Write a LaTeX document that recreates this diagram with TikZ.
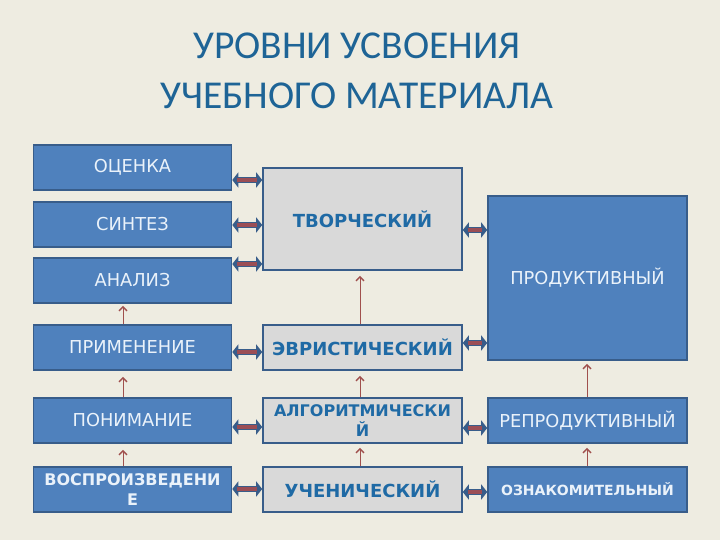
\documentclass[tikz,border=0pt]{standalone}
\usepackage{fontspec}
\setmainfont{DejaVu Sans}
\newfontfamily\titlefont{Carlito}
\usetikzlibrary{arrows.meta}
\definecolor{bg}{HTML}{EEECE1}
\definecolor{boxblue}{HTML}{4F81BD}
\definecolor{boxline}{HTML}{385D8A}
\definecolor{boxgray}{HTML}{D9D9D9}
\definecolor{midtext}{HTML}{1F6AA5}
\definecolor{lighttext}{HTML}{EAF2FA}
\definecolor{titleblue}{HTML}{1E6496}
\definecolor{arrred}{HTML}{9B4E55}
\definecolor{thinred}{HTML}{A0504D}
\tikzset{
  bluebox/.style={draw=boxline, line width=1.6pt, fill=boxblue, text=lighttext, inner sep=0pt, align=center, font=\fontsize{17.8}{20}\selectfont},
  graybox/.style={draw=boxline, line width=1.6pt, fill=boxgray, text=midtext, inner sep=0pt, align=center, font=\fontsize{18}{20}\selectfont\bfseries},
  twoline/.style={font=\fontsize{16}{20}\selectfont\bfseries},
  dblarr/.style={line width=6.4pt, draw=boxline, {Triangle[width=15pt,length=6pt]}-{Triangle[width=15pt,length=6pt]}},
  dblcore/.style={line width=3.8pt, draw=arrred, shorten <=5pt, shorten >=5pt},
  uparr/.style={draw=thinred, line width=1pt, -{Straight Barb[length=4pt,width=8pt,line width=1.4pt]}}
}
\begin{document}
\begin{tikzpicture}[x=1pt,y=-1pt]
\fill[bg] (0,0) rectangle (720,540);
\useasboundingbox (0,0) rectangle (720,540);

\node[text=titleblue, font=\titlefont\fontsize{39.5}{50}\selectfont, align=center] (title) at (357,71) {УРОВНИ УСВОЕНИЯ\\УЧЕБНОГО МАТЕРИАЛА};

% left column
\node[bluebox, minimum width=198pt, minimum height=45pt] (ocenka) at (132.5,167.5) {ОЦЕНКА};
\node[bluebox, minimum width=198pt, minimum height=45pt] (sintez) at (132.5,224.5) {СИНТЕЗ};
\node[bluebox, minimum width=198pt, minimum height=45pt] (analiz) at (132.5,280.5) {АНАЛИЗ};
\node[bluebox, minimum width=198pt, minimum height=45pt] (primen) at (132.5,347.5) {ПРИМЕНЕНИЕ};
\node[bluebox, minimum width=198pt, minimum height=45pt] (ponim) at (132.5,420.5) {ПОНИМАНИЕ};
\node[bluebox, twoline, minimum width=198pt, minimum height=45pt] (vospr) at (132.5,489.5) {ВОСПРОИЗВЕДЕНИ\\Е};

% middle column
\node[graybox, minimum width=199pt, minimum height=102pt] (tvor) at (362.5,219) {ТВОРЧЕСКИЙ};
\node[graybox, minimum width=199pt, minimum height=45pt] (evr) at (362.5,347.5) {ЭВРИСТИЧЕСКИЙ};
\node[graybox, twoline, minimum width=199pt, minimum height=45pt] (algo) at (362.5,420.5) {АЛГОРИТМИЧЕСКИ\\Й};
\node[graybox, minimum width=199pt, minimum height=45pt] (uchen) at (362.5,489.5) {УЧЕНИЧЕСКИЙ};

% right column
\node[bluebox, minimum width=199pt, minimum height=164pt] (prod) at (587.5,278) {ПРОДУКТИВНЫЙ};
\node[bluebox, minimum width=199pt, minimum height=45pt] (repr) at (587.5,420.5) {РЕПРОДУКТИВНЫЙ};
\node[bluebox, minimum width=199pt, minimum height=45pt, font=\fontsize{14}{16}\selectfont\bfseries] (oznak) at (587.5,489.5) {ОЗНАКОМИТЕЛЬНЫЙ};

% double arrows
\foreach \a/\b/\y in {ocenka/tvor/180, sintez/tvor/225, analiz/tvor/264, primen/evr/352, ponim/algo/427, vospr/uchen/489, tvor/prod/230, evr/prod/343, algo/repr/428, uchen/oznak/492}{
  \draw[dblarr] (\a.east |- 0,\y) -- (\b.west |- 0,\y);
  \draw[dblcore] (\a.east |- 0,\y) -- (\b.west |- 0,\y);
}

% vertical arrows
\draw[uparr, shorten >=2pt] (primen.north -| 123,0) -- (analiz.south -| 123,0);
\draw[uparr, shorten >=6pt] (ponim.north -| 123,0) -- (primen.south -| 123,0);
\draw[uparr, shorten >=6pt] (vospr.north -| 123,0) -- (ponim.south -| 123,0);
\draw[uparr, shorten >=5pt] (evr.north -| 360,0) -- (tvor.south -| 360,0);
\draw[uparr, shorten >=5pt] (algo.north -| 360,0) -- (evr.south -| 360,0);
\draw[uparr, shorten >=4pt] (uchen.north -| 360,0) -- (algo.south -| 360,0);
\draw[uparr, shorten >=3pt] (repr.north -| 587,0) -- (prod.south -| 587,0);
\draw[uparr, shorten >=4pt] (oznak.north -| 587,0) -- (repr.south -| 587,0);
\end{tikzpicture}
\end{document}
